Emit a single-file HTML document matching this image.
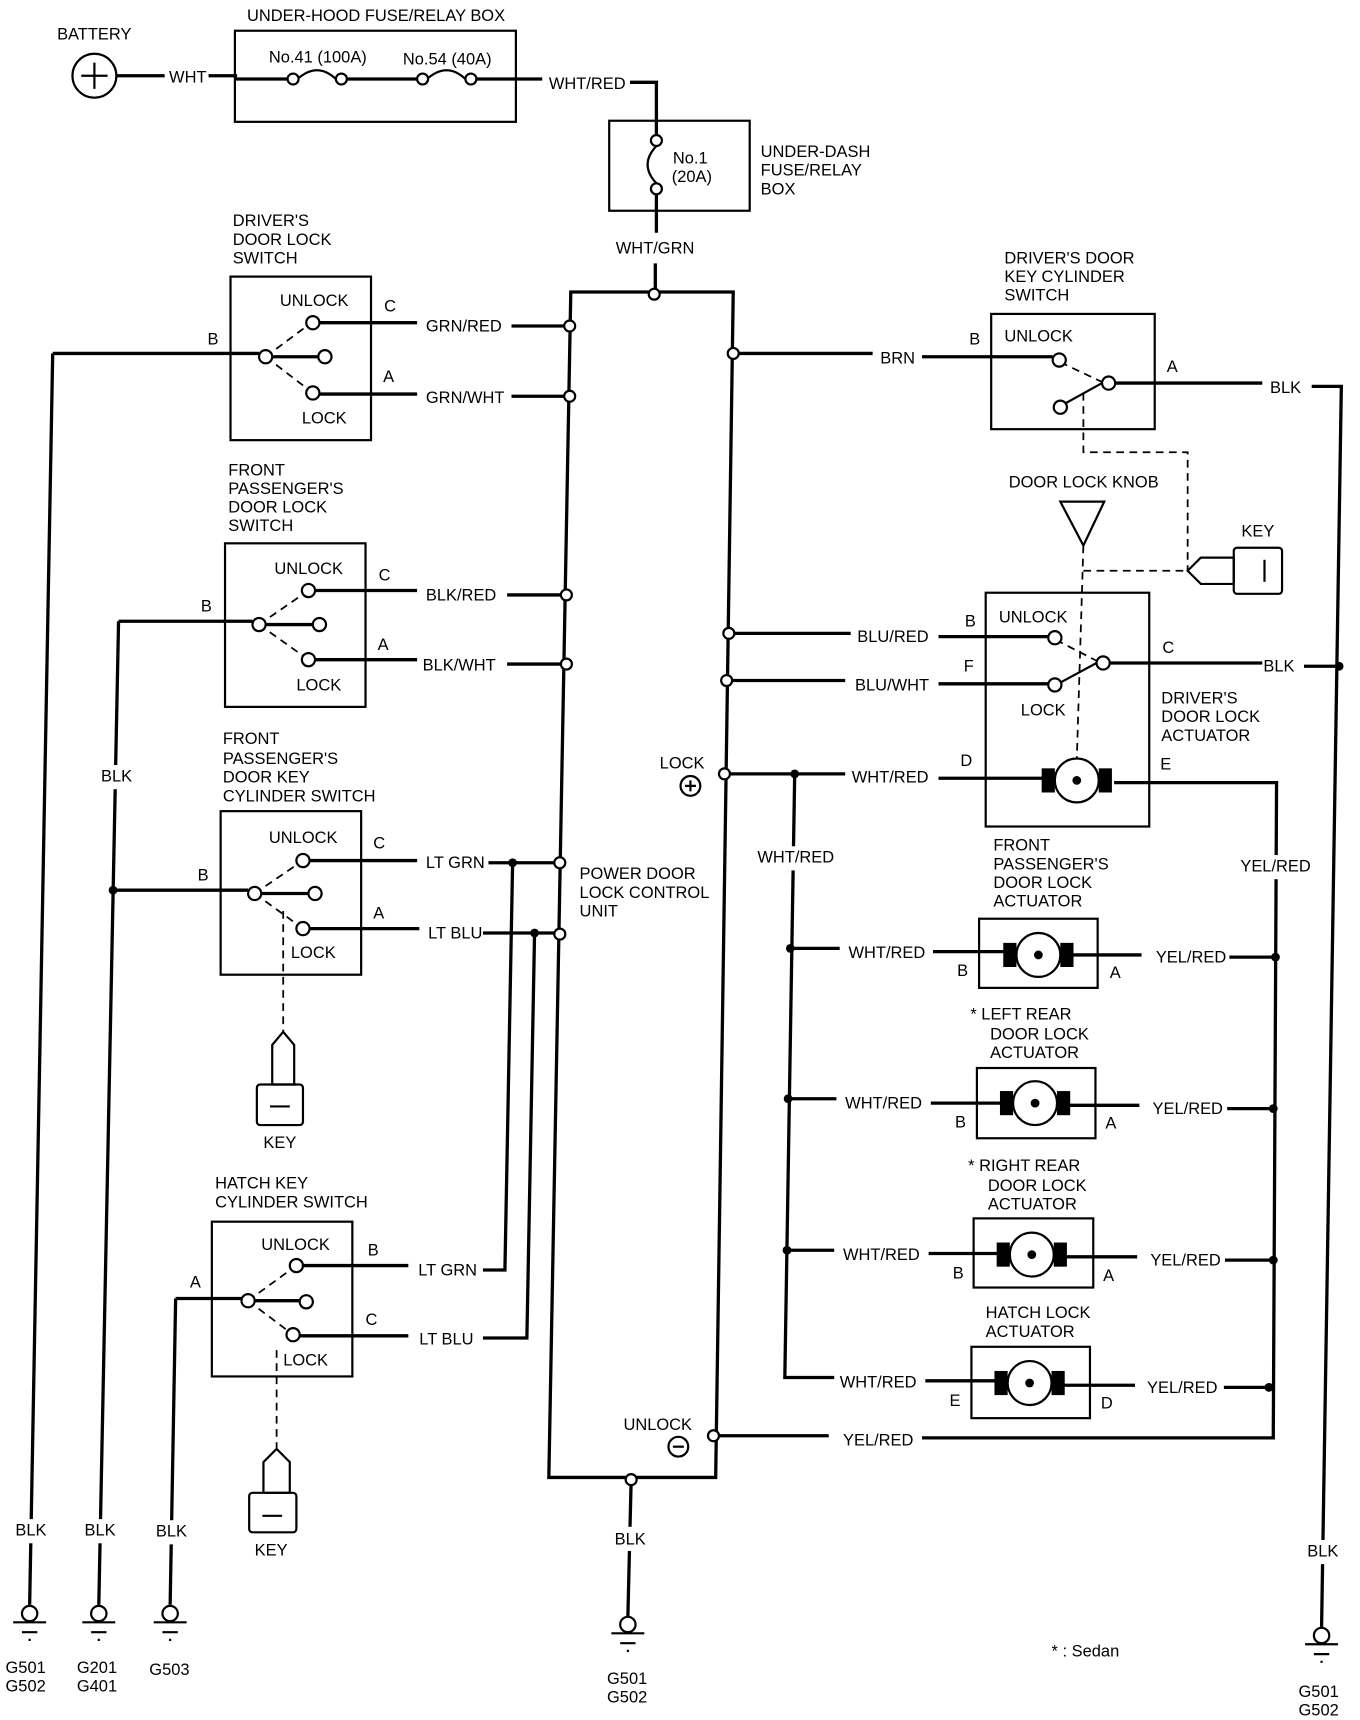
<!DOCTYPE html>
<html><head><meta charset="utf-8"><style>
html,body{margin:0;padding:0;background:#fff;}
svg{display:block;}
text{font-family:"Liberation Sans",sans-serif;font-size:15px;fill:#000;}
.w{stroke:#000;stroke-width:3;fill:none;}
.t{stroke:#000;stroke-width:2;fill:none;}
.d{stroke:#000;stroke-width:1.6;fill:none;stroke-dasharray:7 5;}
.c{stroke:#000;stroke-width:2;fill:#fff;}
.n{fill:#000;}
</style></head><body>
<svg width="1360" height="1720" viewBox="0 0 1239 1567" xmlns="http://www.w3.org/2000/svg">
<!-- battery -->
<text x="52" y="36">BATTERY</text>
<circle class="t" cx="86" cy="69" r="20"/>
<path class="t" d="M74 69H98M86 57V81"/>
<path class="w" d="M106 69H150M190 69H216"/>
<text x="154" y="75">WHT</text>
<!-- under-hood -->
<text x="225" y="19">UNDER-HOOD FUSE/RELAY BOX</text>
<rect class="t" x="214" y="28" width="256" height="83"/>
<text x="245" y="57">No.41 (100A)</text>
<text x="367" y="59">No.54 (40A)</text>
<path class="w" d="M214 72H262M316 72H380M434 72H494M574 75H598V122"/>
<path class="t" d="M271 72Q289 56 306 72M389 72Q407 56 424 72"/>
<circle class="c" cx="267" cy="72" r="5"/><circle class="c" cx="311" cy="72" r="5"/>
<circle class="c" cx="385" cy="72" r="5"/><circle class="c" cx="429" cy="72" r="5"/>
<text x="500" y="81">WHT/RED</text>
<!-- under-dash -->
<rect class="t" x="555" y="110" width="128" height="82"/>
<path class="t" d="M598 133Q582 150 598 167"/>
<circle class="c" cx="598" cy="128" r="5"/><circle class="c" cx="598" cy="172" r="5"/>
<text x="613" y="149">No.1</text><text x="612" y="166">(20A)</text>
<text x="693" y="143">UNDER-DASH</text><text x="693" y="160">FUSE/RELAY</text><text x="693" y="177">BOX</text>
<path class="w" d="M598 177V212M597 240V263"/>
<text x="561" y="231">WHT/GRN</text>
<!-- control unit -->
<path class="w" d="M520 266H668L652 1346H500Z"/>
<text x="528" y="801">POWER DOOR</text><text x="528" y="818">LOCK CONTROL</text><text x="528" y="835">UNIT</text>
<text x="601" y="700">LOCK</text>
<circle class="t" cx="629" cy="716" r="9"/><path class="t" d="M624 716H634M629 711V721"/>
<text x="568" y="1303">UNLOCK</text>
<circle class="t" cx="618" cy="1318" r="9"/><path class="t" d="M613 1318H623"/>
<!-- driver door lock switch -->
<text x="212" y="206">DRIVER'S</text><text x="212" y="223">DOOR LOCK</text><text x="212" y="240">SWITCH</text>
<rect class="t" x="210" y="252" width="128" height="149"/>
<text x="255" y="279">UNLOCK</text><text x="275" y="386">LOCK</text>
<path class="w" d="M48 322H236M291 294H380M466 297H514M291 359H380M466 361H514M248 325H290"/>
<path class="d" d="M242 325L285 293M242 325L285 358"/>
<circle class="c" cx="242" cy="325" r="6"/><circle class="c" cx="285" cy="294" r="6"/><circle class="c" cx="296" cy="325" r="6"/><circle class="c" cx="285" cy="358" r="6"/>
<text x="350" y="284">C</text><text x="349" y="348">A</text><text x="189" y="314">B</text>
<text x="388" y="302">GRN/RED</text><text x="388" y="367">GRN/WHT</text>
<path class="w" d="M48 322L27 1462"/>
<rect x="12" y="1384" width="32" height="22" fill="#fff"/>
<text x="14" y="1399">BLK</text>
<!-- front passenger door lock switch -->
<text x="208" y="433">FRONT</text><text x="208" y="450">PASSENGER'S</text><text x="208" y="467">DOOR LOCK</text><text x="208" y="484">SWITCH</text>
<rect class="t" x="205" y="495" width="128" height="149"/>
<text x="250" y="523">UNLOCK</text><text x="270" y="629">LOCK</text>
<path class="w" d="M108 566H230M287 538H380M462 542H511M287 601H380M462 605H511M242 569H285"/>
<path class="d" d="M236 569L281 538M236 569L281 601"/>
<circle class="c" cx="236" cy="569" r="6"/><circle class="c" cx="281" cy="538" r="6"/><circle class="c" cx="291" cy="569" r="6"/><circle class="c" cx="281" cy="601" r="6"/>
<text x="345" y="529">C</text><text x="344" y="592">A</text><text x="183" y="557">B</text>
<text x="388" y="547">BLK/RED</text><text x="385" y="611">BLK/WHT</text>
<path class="w" d="M108 566L90 1462"/>
<rect x="90" y="697" width="32" height="22" fill="#fff"/>
<text x="92" y="712">BLK</text>
<rect x="75" y="1384" width="32" height="22" fill="#fff"/>
<text x="77" y="1399">BLK</text>
<!-- front passenger key cylinder -->
<text x="203" y="678">FRONT</text><text x="203" y="696">PASSENGER'S</text><text x="203" y="713">DOOR KEY</text><text x="203" y="730">CYLINDER SWITCH</text>
<rect class="t" x="201" y="739" width="128" height="149"/>
<text x="245" y="768">UNLOCK</text><text x="265" y="873">LOCK</text>
<path class="w" d="M103 811H226M282 784H380M445 786H505M282 846H382M440 850H505M238 814H281"/>
<path class="d" d="M232 814L276 784M232 814L276 846M258 830V940"/>
<circle class="c" cx="232" cy="814" r="6"/><circle class="c" cx="276" cy="784" r="6"/><circle class="c" cx="287" cy="814" r="6"/><circle class="c" cx="276" cy="846" r="6"/>
<text x="340" y="773">C</text><text x="340" y="837">A</text><text x="180" y="802">B</text>
<text x="388" y="791">LT GRN</text><text x="390" y="855">LT BLU</text>
<circle class="n" cx="103" cy="811" r="4"/>
<circle class="n" cx="467" cy="786" r="4"/><circle class="n" cx="487" cy="850" r="4"/>
<path class="w" d="M467 786L460 1157H440M487 850L480 1219H440"/>
<path class="t" d="M258 940L248 952V988H268V952Z"/>
<rect class="t" x="234" y="988" width="42" height="37" rx="3"/>
<path class="t" d="M246 1008H264"/>
<text x="240" y="1046">KEY</text>
<!-- hatch key cylinder -->
<text x="196" y="1083">HATCH KEY</text><text x="196" y="1100">CYLINDER SWITCH</text>
<rect class="t" x="193" y="1113" width="128" height="141"/>
<text x="238" y="1139">UNLOCK</text><text x="258" y="1244">LOCK</text>
<path class="w" d="M160 1183H220M270 1153H372M270 1217H372M232 1185H273"/>
<path class="d" d="M226 1185L270 1153M226 1185L267 1216M252 1230V1320"/>
<circle class="c" cx="226" cy="1185" r="6"/><circle class="c" cx="270" cy="1153" r="6"/><circle class="c" cx="279" cy="1186" r="6"/><circle class="c" cx="267" cy="1216" r="6"/>
<text x="335" y="1144">B</text><text x="333" y="1207">C</text><text x="173" y="1173">A</text>
<text x="381" y="1162">LT GRN</text><text x="382" y="1225">LT BLU</text>
<path class="w" d="M160 1183L155 1462"/>
<rect x="140" y="1385" width="32" height="22" fill="#fff"/>
<text x="142" y="1400">BLK</text>
<path class="t" d="M252 1320L240 1332V1360H264V1332Z"/>
<rect class="t" x="227" y="1360" width="43" height="36" rx="3"/>
<path class="t" d="M239 1381H257"/>
<text x="232" y="1417">KEY</text>
<!-- grounds -->
<g>
<circle class="c" cx="27" cy="1470" r="7"/><path class="t" d="M12 1478H42M20 1487H34M26 1494H28"/>
<circle class="c" cx="90" cy="1470" r="7"/><path class="t" d="M75 1478H105M83 1487H97M89 1494H91"/>
<circle class="c" cx="155" cy="1470" r="7"/><path class="t" d="M140 1478H170M148 1487H162M154 1494H156"/>
<circle class="c" cx="572" cy="1480" r="7"/><path class="t" d="M557 1488H587M565 1497H579M571 1504H573"/>
<circle class="c" cx="1204" cy="1490" r="7"/><path class="t" d="M1189 1498H1219M1197 1507H1211M1203 1514H1205"/>
</g>
<text x="5" y="1524">G501</text><text x="5" y="1541">G502</text>
<text x="70" y="1524">G201</text><text x="70" y="1541">G401</text>
<text x="136" y="1526">G503</text>
<text x="553" y="1534">G501</text><text x="553" y="1551">G502</text>
<text x="1183" y="1546">G501</text><text x="1183" y="1563">G502</text>
<path class="w" d="M575 1348L572 1473"/>
<rect x="558" y="1391" width="32" height="22" fill="#fff"/>
<text x="560" y="1407">BLK</text>
<!-- driver key cylinder switch -->
<text x="915" y="240">DRIVER'S DOOR</text><text x="915" y="257">KEY CYLINDER</text><text x="915" y="274">SWITCH</text>
<rect class="t" x="903" y="286" width="149" height="105"/>
<text x="915" y="311">UNLOCK</text>
<path class="w" d="M672 322H795M840 325H959M1016 349H1150M1195 352H1222L1204 1483"/>
<text x="802" y="331">BRN</text><text x="883" y="314">B</text><text x="1063" y="339">A</text>
<text x="1157" y="358">BLK</text>
<path class="t" d="M966 370L1004 349"/>
<path class="d" d="M966 330L1004 348M987 358V412H1082V520M987 520H1082"/>
<circle class="c" cx="965" cy="328" r="6"/><circle class="c" cx="1010" cy="349" r="6"/><circle class="c" cx="966" cy="371" r="6"/>
<rect x="1190" y="1403" width="32" height="22" fill="#fff"/>
<text x="1191" y="1418">BLK</text>
<circle class="n" cx="1220" cy="607" r="4"/>
<!-- key right -->
<text x="1131" y="489">KEY</text>
<path class="t" d="M1082 520L1094 508H1124V532H1094Z"/>
<rect class="t" x="1124" y="499" width="44" height="42" rx="3"/>
<path class="t" d="M1152 510V530"/>
<!-- door lock knob -->
<text x="919" y="444">DOOR LOCK KNOB</text>
<path class="t" d="M966 457H1006L987 497Z"/>
<path class="d" d="M987 497L981 692"/>
<!-- driver actuator -->
<rect class="t" x="898" y="540" width="149" height="213"/>
<text x="910" y="567">UNLOCK</text><text x="930" y="652">LOCK</text>
<text x="879" y="571">B</text><text x="878" y="612">F</text><text x="1059" y="595">C</text>
<text x="875" y="698">D</text><text x="1057" y="701">E</text>
<text x="1058" y="641">DRIVER'S</text><text x="1058" y="658">DOOR LOCK</text><text x="1058" y="675">ACTUATOR</text>
<path class="w" d="M668 577H775M855 580H955M666 620H770M855 623H955M1010 604H1150M1188 607H1220"/>
<path class="t" d="M962 624L999 604"/>
<path class="d" d="M962 583L999 602"/>
<circle class="c" cx="961" cy="581" r="6"/><circle class="c" cx="1005" cy="604" r="6"/><circle class="c" cx="961" cy="624" r="6"/>
<text x="781" y="585">BLU/RED</text><text x="779" y="629">BLU/WHT</text><text x="1151" y="612">BLK</text>
<path class="w" d="M664 705H770M855 709H950M1015 713H1163L1160 1310H840M655 1308H755"/>
<rect x="949" y="700" width="12" height="22" class="n"/><rect x="1001" y="700" width="12" height="22" class="n"/>
<circle class="c" cx="981" cy="711" r="20"/><circle class="n" cx="981" cy="711" r="4"/>
<text x="776" y="713">WHT/RED</text>
<text x="768" y="1317">YEL/RED</text>
<rect x="1128" y="779" width="68" height="22" fill="#fff"/>
<text x="1130" y="794">YEL/RED</text>
<path class="w" d="M724 705L715 1255H760"/>
<rect x="688" y="771" width="72" height="22" fill="#fff"/>
<text x="690" y="786">WHT/RED</text>
<circle class="n" cx="724" cy="705" r="4"/>
<!-- control unit nodes -->
<g class="c">
<circle cx="596" cy="268" r="5"/><circle cx="519" cy="297" r="5"/><circle cx="519" cy="361" r="5"/>
<circle cx="516" cy="542" r="5"/><circle cx="516" cy="605" r="5"/><circle cx="510" cy="786" r="5"/><circle cx="510" cy="851" r="5"/>
<circle cx="668" cy="322" r="5"/><circle cx="664" cy="577" r="5"/><circle cx="662" cy="620" r="5"/><circle cx="660" cy="705" r="5"/>
<circle cx="650" cy="1308" r="5"/><circle cx="575" cy="1348" r="5"/>
</g>
<!-- front passenger actuator -->
<text x="905" y="775">FRONT</text><text x="905" y="792">PASSENGER'S</text><text x="905" y="809">DOOR LOCK</text><text x="905" y="826">ACTUATOR</text>
<rect class="t" x="892" y="837" width="108" height="63"/>
<path class="w" d="M720 864H765M850 867H915M975 870H1040M1120 872H1162"/>
<rect x="914" y="859" width="12" height="22" class="n"/><rect x="966" y="859" width="12" height="22" class="n"/>
<circle class="c" cx="946" cy="870" r="20"/><circle class="n" cx="946" cy="870" r="4"/>
<text x="773" y="873">WHT/RED</text><text x="1053" y="877">YEL/RED</text>
<text x="872" y="889">B</text><text x="1011" y="891">A</text>
<circle class="n" cx="720" cy="864" r="4"/><circle class="n" cx="1162" cy="872" r="4"/>
<!-- left rear -->
<text x="884" y="929">* LEFT REAR</text><text x="902" y="947">DOOR LOCK</text><text x="902" y="964">ACTUATOR</text>
<rect class="t" x="890" y="973" width="108" height="64"/>
<path class="w" d="M718 1001H762M848 1005H912M973 1007H1038M1118 1010H1160"/>
<rect x="911" y="994" width="12" height="22" class="n"/><rect x="963" y="994" width="12" height="22" class="n"/>
<circle class="c" cx="943" cy="1005" r="20"/><circle class="n" cx="943" cy="1005" r="4"/>
<text x="770" y="1010">WHT/RED</text><text x="1050" y="1015">YEL/RED</text>
<text x="870" y="1027">B</text><text x="1007" y="1028">A</text>
<circle class="n" cx="718" cy="1001" r="4"/><circle class="n" cx="1160" cy="1010" r="4"/>
<!-- right rear -->
<text x="882" y="1067">* RIGHT REAR</text><text x="900" y="1085">DOOR LOCK</text><text x="900" y="1102">ACTUATOR</text>
<rect class="t" x="887" y="1110" width="109" height="63"/>
<path class="w" d="M717 1139H760M846 1142H910M970 1145H1036M1116 1148H1160"/>
<rect x="908" y="1132" width="12" height="22" class="n"/><rect x="960" y="1132" width="12" height="22" class="n"/>
<circle class="c" cx="940" cy="1143" r="20"/><circle class="n" cx="940" cy="1143" r="4"/>
<text x="768" y="1148">WHT/RED</text><text x="1048" y="1153">YEL/RED</text>
<text x="868" y="1165">B</text><text x="1005" y="1167">A</text>
<circle class="n" cx="717" cy="1139" r="4"/><circle class="n" cx="1160" cy="1148" r="4"/>
<!-- hatch actuator -->
<text x="898" y="1201">HATCH LOCK</text><text x="898" y="1218">ACTUATOR</text>
<rect class="t" x="885" y="1227" width="108" height="65"/>
<path class="w" d="M843 1258H908M968 1262H1034M1115 1264H1156"/>
<rect x="906" y="1249" width="12" height="22" class="n"/><rect x="958" y="1249" width="12" height="22" class="n"/>
<circle class="c" cx="938" cy="1260" r="20"/><circle class="n" cx="938" cy="1260" r="4"/>
<text x="765" y="1264">WHT/RED</text><text x="1045" y="1269">YEL/RED</text>
<text x="865" y="1281">E</text><text x="1003" y="1283">D</text>
<circle class="n" cx="1156" cy="1264" r="4"/>
<text x="958" y="1509">* : Sedan</text>
</svg>
</body></html>
